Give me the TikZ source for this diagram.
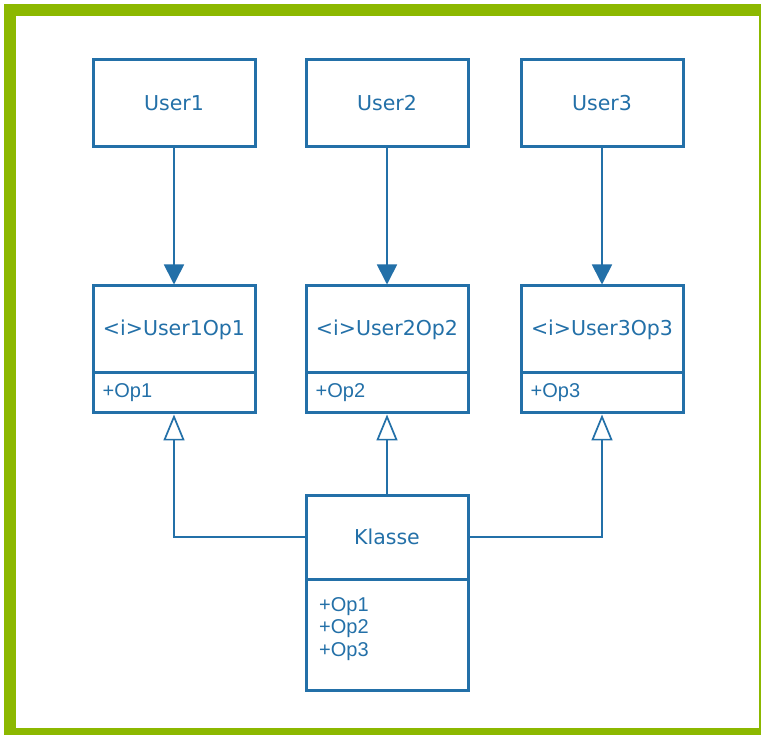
\documentclass[tikz,border=0pt]{standalone}
\usepackage{fontspec}
\setmainfont{DejaVu Sans}
\newfontfamily\memberfont{Liberation Sans}
\usetikzlibrary{arrows.meta}
\definecolor{umlblue}{HTML}{2370A8}
\definecolor{framegreen}{HTML}{8CB800}
\begin{document}
\begin{tikzpicture}[x=1pt,y=-1pt,
  box/.style={draw=umlblue, line width=3pt, minimum width=162pt, inner sep=0pt,
    text=umlblue, font=\fontsize{20.5}{24}\selectfont},
  head/.style={box, minimum height=87pt},
  members/.style={box, minimum height=40pt},
  memtext/.style={text=umlblue, font=\memberfont\fontsize{20}{22.5}\selectfont,
    inner sep=0pt, align=left},
  usesline/.style={draw=umlblue, line width=1.7pt,
    -{Triangle[width=20pt,length=20pt]}},
  realizes/.style={draw=umlblue, line width=1.7pt,
    -{Triangle[open,width=21pt,length=26pt,fill=white]}}
]
\useasboundingbox (0,0) rectangle (761,735);
% green frame
\fill[white] (0,0) rectangle (761,735);
\fill[framegreen] (4,4) rectangle (761,735);
\fill[white] (16,16) rectangle (759,728);

% clients
\node[head] (u1) at (174,103.5) {User1};
\node[head] (u2) at (387,103.5) {User2};
\node[head] (u3) at (602,103.5) {User3};

% interfaces
\node[head] (i1) at (174,329.5) {<i>User1Op1};
\node[members] (i1m) at (174,393) {};
\node[memtext, anchor=west] (i1t) at ([xshift=11pt]i1m.west) {+Op1};

\node[head] (i2) at (387,329.5) {<i>User2Op2};
\node[members] (i2m) at (387,393) {};
\node[memtext, anchor=west] (i2t) at ([xshift=11pt]i2m.west) {+Op2};

\node[head] (i3) at (602,329.5) {<i>User3Op3};
\node[members] (i3m) at (602,393) {};
\node[memtext, anchor=west] (i3t) at ([xshift=11pt]i3m.west) {+Op3};

% implementing class
\node[box, minimum height=84pt] (k) at (387,537) {Klasse};
\node[box, minimum height=111pt] (km) at (387,634.5) {};
\node[memtext, anchor=north west] (kt) at (319,597) {+Op1\\+Op2\\+Op3};

% dependencies
\draw[usesline] (u1) -- (i1);
\draw[usesline] (u2) -- (i2);
\draw[usesline] (u3) -- (i3);

% realizations
\draw[realizes] (k.north) -- (i2m.south);
\draw[realizes] (k.west) -| (i1m.south);
\draw[realizes] (k.east) -| (i3m.south);
\end{tikzpicture}
\end{document}
